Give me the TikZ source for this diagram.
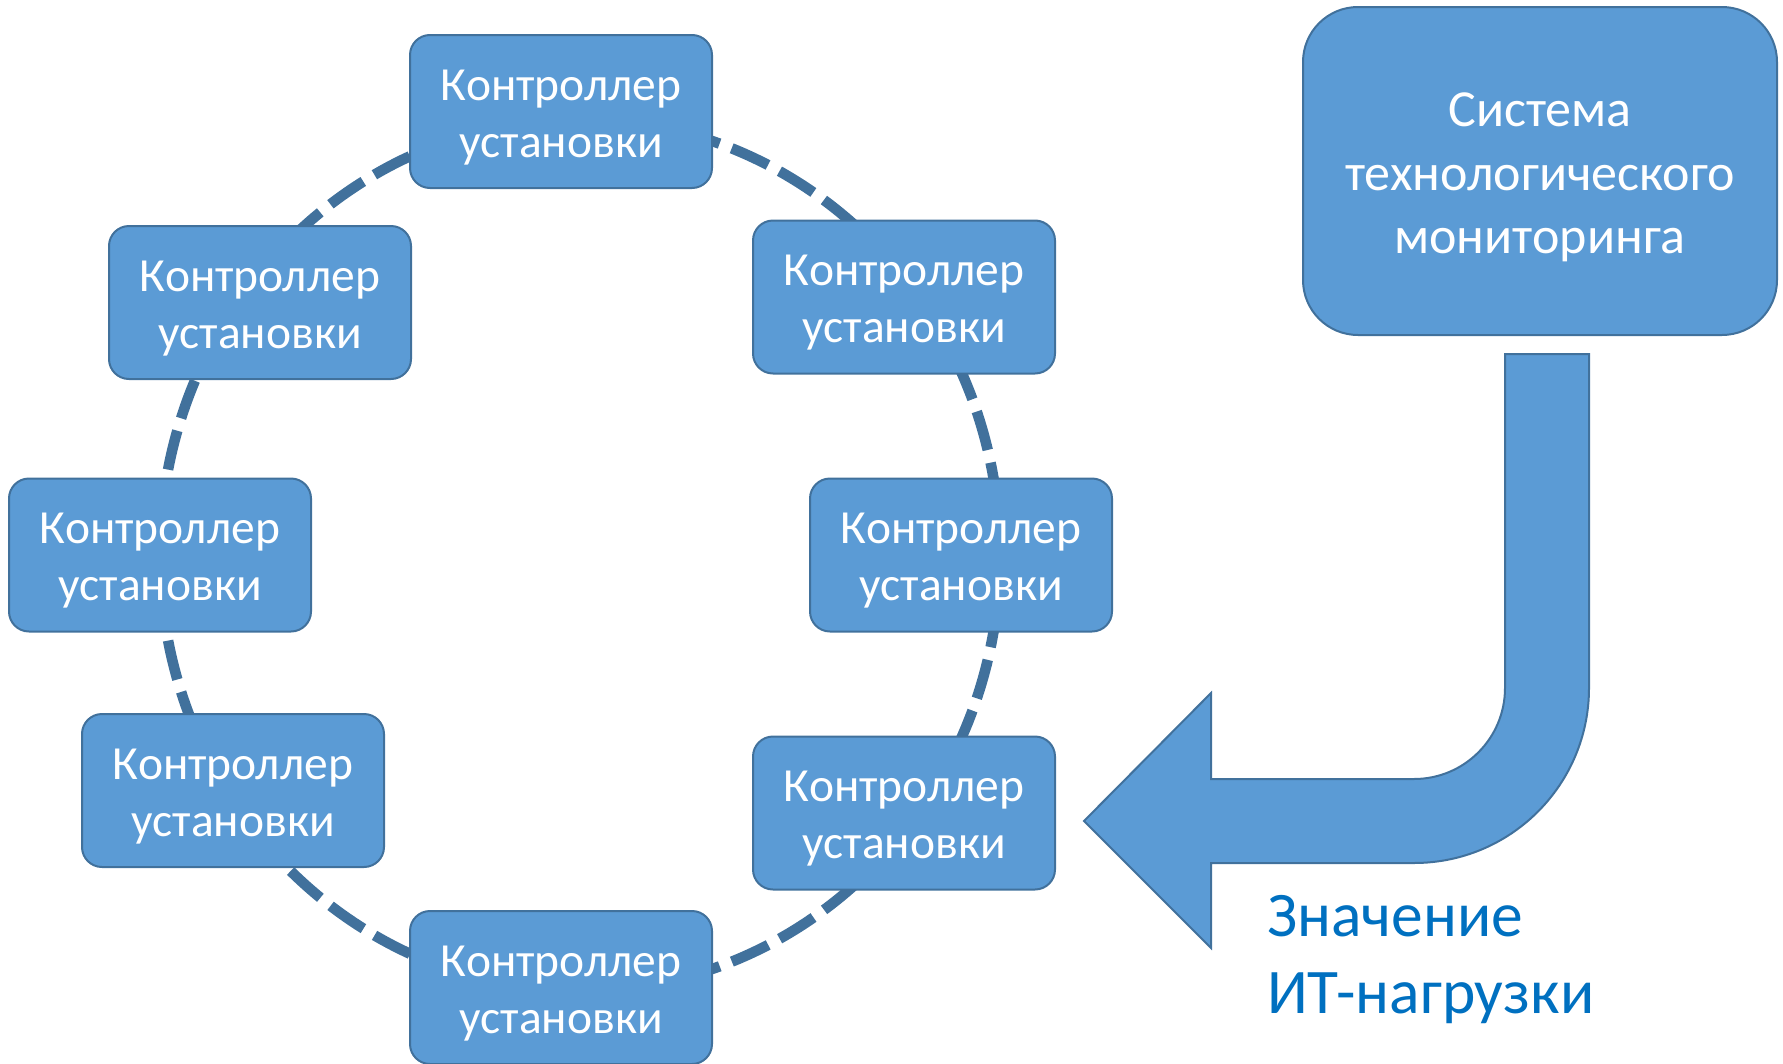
\documentclass[tikz,border=0pt]{standalone}
\usepackage{fontspec}
\setmainfont{Carlito}
\definecolor{boxfill}{HTML}{5B9BD5}
\definecolor{boxline}{HTML}{41719C}
\definecolor{valtext}{HTML}{0070C0}
\newcommand{\ctrltext}{\rule{0pt}{42pt}Контроллер\\установки}
\begin{document}
\begin{tikzpicture}[x=1pt,y=-1pt,
  ctrl/.style={draw=boxline, line width=2pt, fill=boxfill, rounded corners=20pt,
    minimum width=302pt, minimum height=153pt, inner sep=0pt, text=white,
    align=center, font=\fontsize{47.5}{57}\selectfont},
  sysbox/.style={draw=boxline, line width=2pt, fill=boxfill, rounded corners=55pt,
    minimum width=474pt, minimum height=328pt, inner sep=0pt, text=white,
    align=center, font=\fontsize{52}{63.5}\selectfont},
  ring/.style={draw=boxline, line width=10.5pt, dash pattern=on 40pt off 13pt},
  bigarrow/.style={draw=boxline, line width=2pt, fill=boxfill, line join=miter},
  valstyle/.style={text=valtext, inner sep=0pt, font=\fontsize{63.5}{77}\selectfont}]
\useasboundingbox (0,0) rectangle (1783,1063);
\coordinate (ringc) at (580,555);
\draw[ring] (ringc) ellipse [x radius=420pt, y radius=436pt];

\node[ctrl] (c1) at (561,111.5) {\ctrltext};
\node[ctrl] (c2) at (260,302.5) {\ctrltext};
\node[ctrl] (c3) at (160,555) {\ctrltext};
\node[ctrl] (c4) at (233,790.5) {\ctrltext};
\node[ctrl] (c5) at (561,987.5) {\ctrltext};
\node[ctrl] (c6) at (904,297) {\ctrltext};
\node[ctrl] (c7) at (961,555) {\ctrltext};
\node[ctrl] (c8) at (904,813) {\ctrltext};

\node[sysbox] (sys) at (1540,171) {\rule{0pt}{47pt}Система\\технологического\\мониторинга};

\path[bigarrow] (1505,354) -- (1589,354) -- (1589,688)
  .. controls (1589,784.7) and (1510.7,863) .. (1414,863)
  -- (1211,863) -- (1211,948) -- (1084,821) -- (1211,693) -- (1211,779)
  -- (1414,779) .. controls (1464.3,779) and (1505,738.3) .. (1505,688) -- cycle;

\node[valstyle, anchor=base west] (val1) at (1267,936) {Значение};
\node[valstyle, anchor=base west] (val2) at (1267,1013) {ИТ-нагрузки};
\end{tikzpicture}
\end{document}
